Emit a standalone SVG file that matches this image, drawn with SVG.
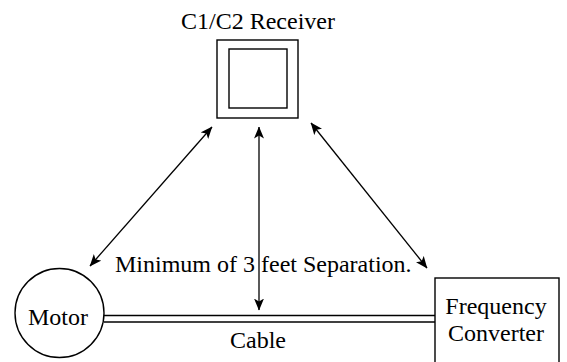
<svg xmlns="http://www.w3.org/2000/svg" width="567" height="362" viewBox="0 0 567 362">
<style>
.s{fill:none;stroke:#000;stroke-width:1.4}
.t{font-family:'Liberation Serif','Times New Roman','DejaVu Serif',serif;font-size:24px;fill:#000}
.c{stroke:#000;stroke-width:1.3;fill:none;marker-start:url(#ah);marker-end:url(#ah)}
</style>
<defs>
<marker id="ah" viewBox="0 0 12 10" refX="11.5" refY="5" markerWidth="12" markerHeight="10" markerUnits="userSpaceOnUse" orient="auto-start-reverse">
<path d="M0,0 L12,5 L0,10 L3,5 Z" fill="#000"/>
</marker>
</defs>
<rect width="567" height="362" fill="#fff"/>
<g id="receiver">
<rect class="s" x="217" y="40" width="81" height="78"/>
<rect class="s" x="229" y="49" width="58" height="59"/>
<text class="t" x="258" y="29" text-anchor="middle">C1/C2 Receiver</text>
</g>
<g id="motor">
<circle class="s" cx="59.5" cy="313" r="44.5"/>
<text class="t" x="58" y="325" text-anchor="middle">Motor</text>
</g>
<g id="converter">
<rect class="s" x="435" y="278" width="124" height="100"/>
<text class="t" x="496" y="314" text-anchor="middle">Frequency</text>
<text class="t" x="496" y="341" text-anchor="middle">Converter</text>
</g>
<g id="connectors">
<line class="s" x1="104" y1="315.5" x2="435" y2="315.5"/>
<line class="s" x1="104" y1="322" x2="435" y2="322"/>
<line class="c" x1="90" y1="266" x2="212" y2="127"/>
<line class="c" x1="259" y1="127" x2="259" y2="310"/>
<line class="c" x1="311" y1="123" x2="427" y2="268"/>
</g>
<text class="t" x="115" y="272">Minimum of 3 feet Separation.</text>
<text class="t" x="258" y="348" text-anchor="middle">Cable</text>
</svg>
